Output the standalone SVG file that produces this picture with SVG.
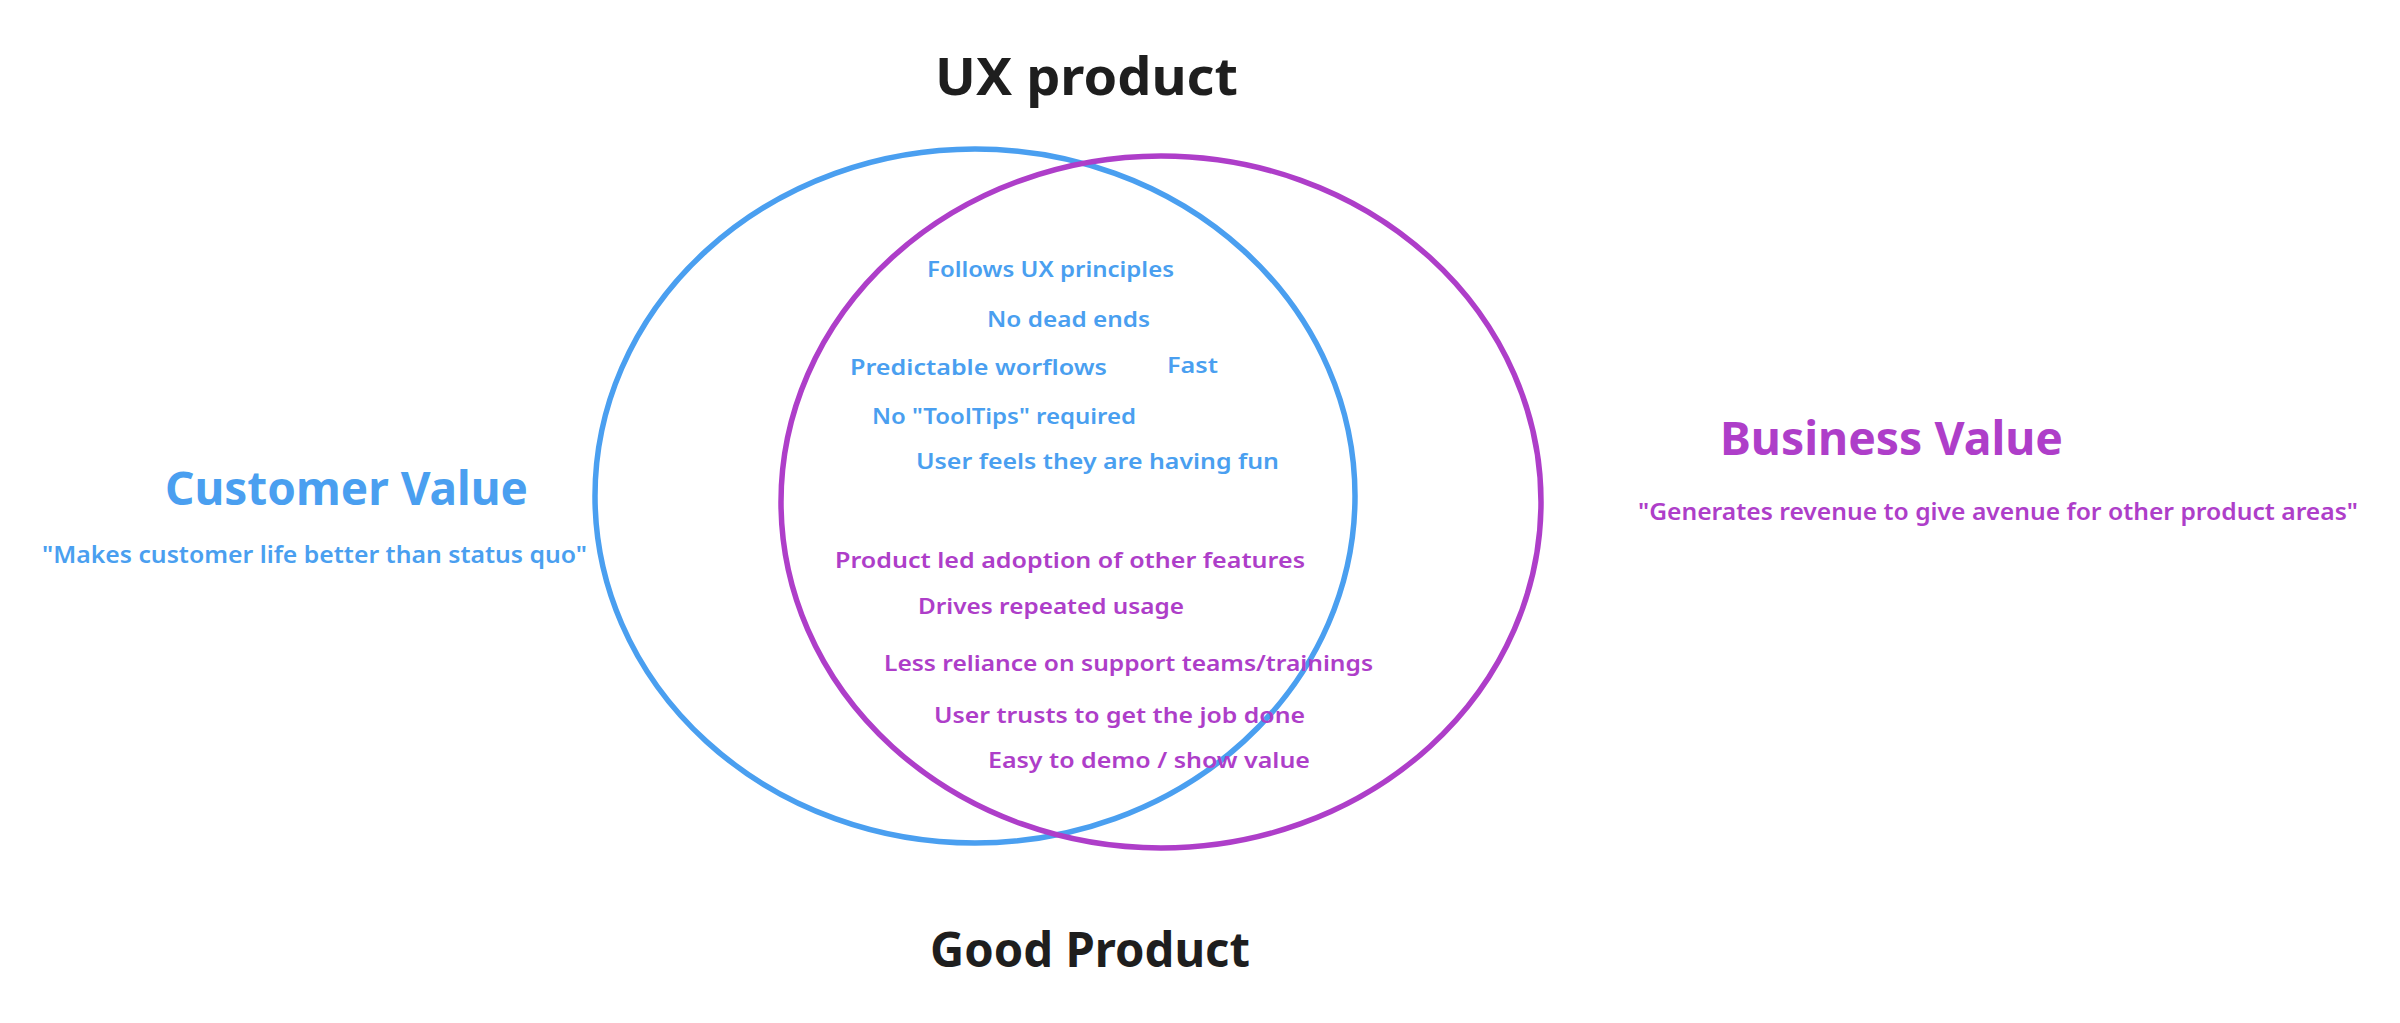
<svg xmlns="http://www.w3.org/2000/svg" width="2400" height="1023" viewBox="0 0 2400 1023">
<style>
.ring{fill:none;stroke-width:5.5}
.blue{fill:#4a9ff0}
.purple{fill:#ae3ec9}
.dark{fill:#1e1e1e}
.title{font-family:"Noto Sans","Liberation Sans",sans-serif;font-weight:700}
.label{font-family:"Noto Sans","Liberation Sans",sans-serif;font-weight:600}
.item{font-family:"Noto Sans","Liberation Sans",sans-serif;font-weight:600;font-size:22px}
</style>
<rect width="2400" height="1023" fill="#ffffff"/>
<g id="customer-circle"><ellipse class="ring" cx="975" cy="496" rx="380" ry="347" stroke="#4a9ff0"/></g>
<g id="business-circle"><ellipse class="ring" cx="1161" cy="502" rx="380" ry="346" stroke="#ae3ec9"/></g>
<g id="connectors"></g>
<g id="ux-product"><text class="title dark" x="935" y="95" font-size="52" textLength="303" lengthAdjust="spacingAndGlyphs">UX product</text></g>
<g id="good-product"><text class="title dark" x="930" y="967" font-size="48" textLength="320" lengthAdjust="spacingAndGlyphs">Good Product</text></g>
<g id="customer-value"><text class="title blue" x="165" y="505" font-size="46" textLength="363" lengthAdjust="spacingAndGlyphs">Customer Value</text>
<text class="label blue" x="42" y="563" font-size="23" textLength="545" lengthAdjust="spacingAndGlyphs">"Makes customer life better than status quo"</text></g>
<g id="business-value"><text class="title purple" x="1720" y="455" font-size="46" textLength="343" lengthAdjust="spacingAndGlyphs">Business Value</text>
<text class="label purple" x="1638" y="520" font-size="23" textLength="720" lengthAdjust="spacingAndGlyphs">"Generates revenue to give avenue for other product areas"</text></g>
<g id="customer-items">
<text class="item blue" x="927" y="277" textLength="247" lengthAdjust="spacingAndGlyphs">Follows UX principles</text>
<text class="item blue" x="987" y="327" textLength="163" lengthAdjust="spacingAndGlyphs">No dead ends</text>
<text class="item blue" x="850" y="375" textLength="257" lengthAdjust="spacingAndGlyphs">Predictable worflows</text>
<text class="item blue" x="1167" y="373" textLength="51" lengthAdjust="spacingAndGlyphs">Fast</text>
<text class="item blue" x="872" y="424" textLength="264" lengthAdjust="spacingAndGlyphs">No "ToolTips" required</text>
<text class="item blue" x="916" y="469" textLength="363" lengthAdjust="spacingAndGlyphs">User feels they are having fun</text>
</g>
<g id="business-items">
<text class="item purple" x="835" y="568" textLength="470" lengthAdjust="spacingAndGlyphs">Product led adoption of other features</text>
<text class="item purple" x="918" y="614" textLength="266" lengthAdjust="spacingAndGlyphs">Drives repeated usage</text>
<text class="item purple" x="884" y="671" textLength="489" lengthAdjust="spacingAndGlyphs">Less reliance on support teams/trainings</text>
<text class="item purple" x="934" y="723" textLength="371" lengthAdjust="spacingAndGlyphs">User trusts to get the job done</text>
<text class="item purple" x="988" y="768" textLength="322" lengthAdjust="spacingAndGlyphs">Easy to demo / show value</text>
</g>
</svg>
